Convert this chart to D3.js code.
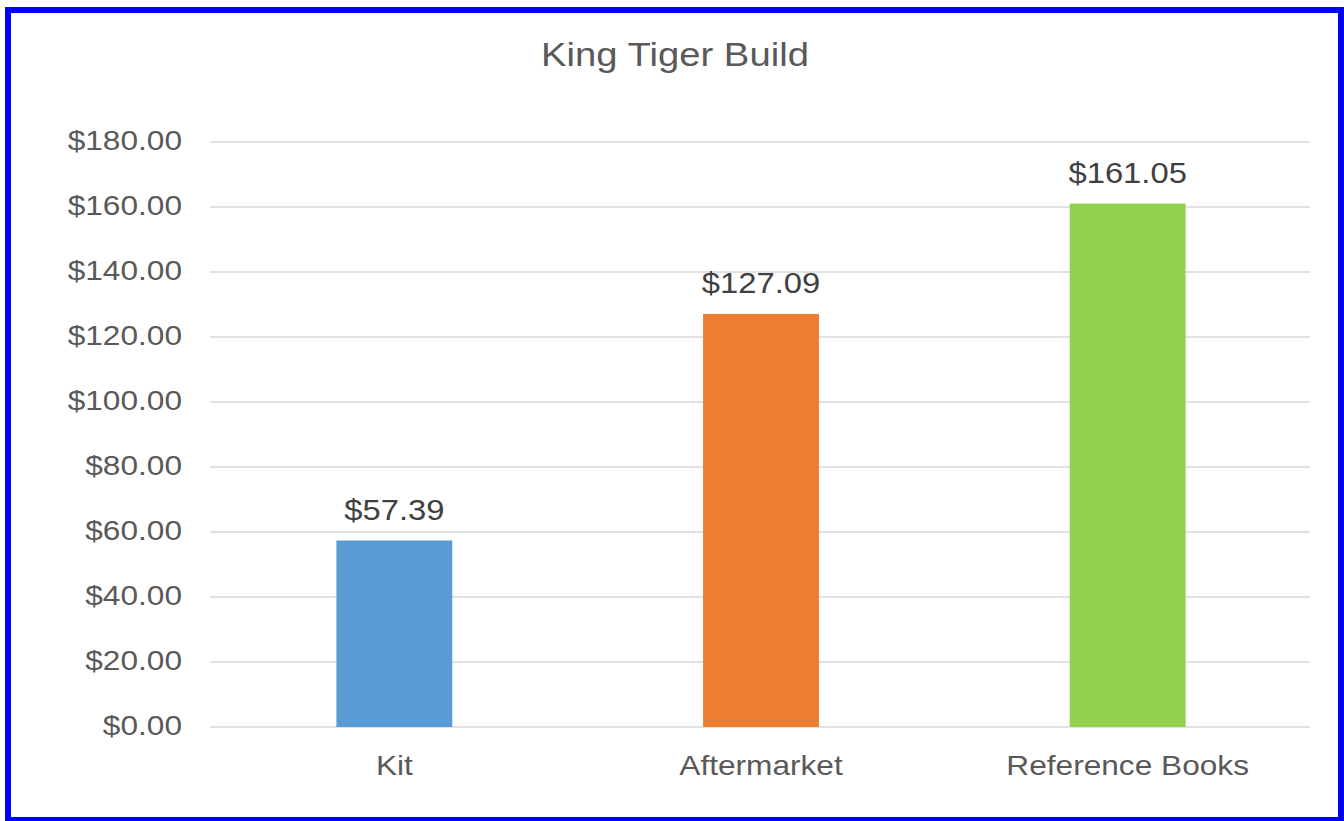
<!DOCTYPE html>
<html>
<head>
<meta charset="utf-8">
<script src="https://cdn.jsdelivr.net/npm/d3@7"></script>
<style>
  body { margin: 0; background: #fff; }
  svg { display: block; font-family: "Liberation Sans", Arial, sans-serif; }
</style>
</head>
<body>
<div id="container"></div>
<script>
/* CONSTANTS AND GLOBALS */
const width = 1344,
  height = 821,
  margin = {top: 142, bottom: 94, left: 210, right: 34};

// text in the reference is a little wider than the font, so stretch it
const sx = 1.13;

/* DATA */
const categories = ["Kit", "Aftermarket", "Reference Books"];
const costs = [57.39, 127.09, 161.05];
const barColors = ["#5B9BD5", "#ED7D31", "#92D050"];
const yTicks = [0, 20, 40, 60, 80, 100, 120, 140, 160, 180];
const title = "King Tiger Build";

const fmt = d3.format("$,.2f");

const svg = d3.select("#container").append("svg")
  .attr("width", width)
  .attr("height", height);

// + SCALES
const xScale = d3.scaleBand()
  .domain(categories)
  .range([margin.left, width - margin.right])
  .paddingInner(0.684)
  .paddingOuter(0.342);

const yScale = d3.scaleLinear()
  .domain([0, 180])
  .range([height - margin.bottom, margin.top]);

// gridlines
svg.append("g")
  .selectAll("line")
  .data(yTicks)
  .join("line")
    .attr("x1", margin.left)
    .attr("x2", width - margin.right)
    .attr("y1", d => yScale(d))
    .attr("y2", d => yScale(d))
    .attr("stroke", "#D9D9D9")
    .attr("stroke-width", 1.5);

// y axis labels
const yAxis = d3.axisLeft(yScale).tickValues(yTicks).tickFormat(fmt).tickSize(0).tickPadding(28);
const yAxisGroup = svg.append("g")
  .attr("transform", `translate(${margin.left},0)`)
  .call(yAxis);
yAxisGroup.select(".domain").remove();
yAxisGroup.selectAll("text")
  .attr("x", null).attr("dy", null)
  .attr("y", 7.5)
  .attr("transform", `translate(-28,0) scale(${sx},1)`)
  .attr("fill", "#595959")
  .style("font-size", "28px")
  .style("font-family", "Liberation Sans, Arial, sans-serif");

// bars
svg.selectAll("rect.bar")
  .data(costs)
  .join("rect")
    .attr("class", "bar")
    .attr("x", (d, i) => xScale(categories[i]) + 1)
    .attr("width", xScale.bandwidth())
    .attr("y", d => yScale(d))
    .attr("height", d => yScale(0) - yScale(d))
    .attr("fill", (d, i) => barColors[i]);

// data labels
svg.selectAll("text.value")
  .data(costs)
  .join("text")
    .attr("class", "value")
    .attr("transform", (d, i) => `translate(${xScale(categories[i]) + 1 + xScale.bandwidth() / 2},${yScale(d) - 20.5}) scale(${sx},1)`)
    .attr("text-anchor", "middle")
    .attr("fill", "#404040")
    .style("font-size", "29px")
    .text(d => fmt(d));

// x axis labels
svg.selectAll("text.cat")
  .data(categories)
  .join("text")
    .attr("class", "cat")
    .attr("transform", d => `translate(${xScale(d) + 1 + xScale.bandwidth() / 2},${yScale(0) + 48}) scale(${sx},1)`)
    .attr("text-anchor", "middle")
    .attr("fill", "#595959")
    .style("font-size", "28px")
    .text(d => d);

// title
svg.append("text")
  .attr("transform", `translate(675,66) scale(1.125,1)`)
  .attr("text-anchor", "middle")
  .attr("fill", "#595959")
  .style("font-size", "34px")
  .text(title);

// border
svg.append("rect")
  .attr("x", 8)
  .attr("y", 10)
  .attr("width", 1333)
  .attr("height", 810)
  .attr("fill", "none")
  .attr("stroke", "#0000FF")
  .attr("stroke-width", 6);
</script>
</body>
</html>
